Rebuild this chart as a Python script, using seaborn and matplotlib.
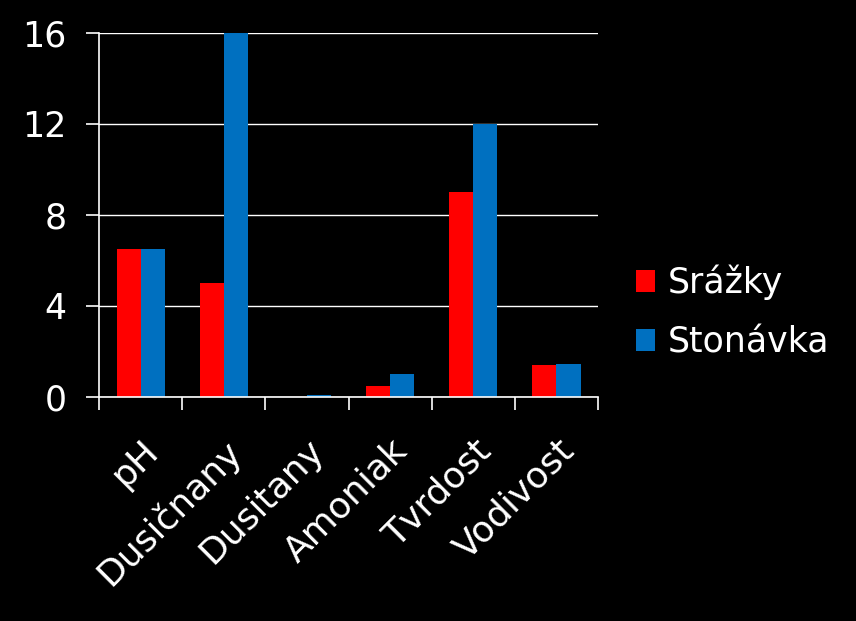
import matplotlib
matplotlib.use("Agg")
import matplotlib.pyplot as plt
import seaborn as sns
import pandas as pd
from matplotlib.ticker import FixedLocator

categories = ["pH", "Dusičnany", "Dusitany", "Amoniak", "Tvrdost", "Vodivost"]
srazky = [6.5, 5.0, 0.0, 0.5, 9.0, 1.4]
stonavka = [6.5, 16.0, 0.1, 1.0, 12.0, 1.45]
series_names = ["Srážky", "Stonávka"]
yticks = [0, 4, 8, 12, 16]

df = pd.DataFrame({
    "cat": categories * 2,
    "val": srazky + stonavka,
    "series": [series_names[0]] * len(categories) + [series_names[1]] * len(categories),
})

sns.set_theme(style="white")
plt.rcParams["font.family"] = ["DejaVu Sans"]

fig = plt.figure(figsize=(8.56, 6.21), dpi=100, facecolor="black")
ax = fig.add_axes([0.1157, 0.3607, 0.5829, 0.5862])
ax.set_facecolor("black")

sns.barplot(data=df, x="cat", y="val", hue="series", order=categories,
            hue_order=series_names, palette=["#FF0000", "#0070C0"],
            width=0.58, gap=0, saturation=1, ax=ax, linewidth=0, legend=True)

ax.set_xlim(-0.5, len(categories) - 0.5)
ax.set_ylim(0, 16)
ax.set_yticks(yticks)
ax.set_yticklabels([str(t) for t in yticks])
ax.yaxis.grid(True, color="white", linewidth=1)
ax.set_axisbelow(True)
ax.set_xlabel("")
ax.set_ylabel("")

for s in ["top", "right"]:
    ax.spines[s].set_visible(False)
for s in ["left", "bottom"]:
    ax.spines[s].set_color("white")
    ax.spines[s].set_linewidth(1.2)

ax.tick_params(axis="y", colors="white", labelsize=25, length=9.5, width=1.2,
               direction="out", left=True, pad=14)
ax.xaxis.set_minor_locator(FixedLocator([i - 0.5 for i in range(len(categories) + 1)]))
ax.tick_params(axis="x", which="major", length=0, labelsize=26, labelcolor="white", pad=26)
ax.tick_params(axis="x", which="minor", length=9.5, width=1.2, color="white", bottom=True,
               direction="out")
for lab in ax.get_xticklabels():
    lab.set_rotation(45)
    lab.set_ha("right")
    lab.set_rotation_mode("anchor")

leg = ax.legend(loc="center left", bbox_to_anchor=(0.743, 0.4976),
                bbox_transform=fig.transFigure, frameon=False, fontsize=25,
                labelcolor="white", handlelength=0.56, handleheight=0.56,
                handletextpad=0.36, labelspacing=0.72, borderpad=0, borderaxespad=0)

fig.savefig("out.png", dpi=100, facecolor="black")
